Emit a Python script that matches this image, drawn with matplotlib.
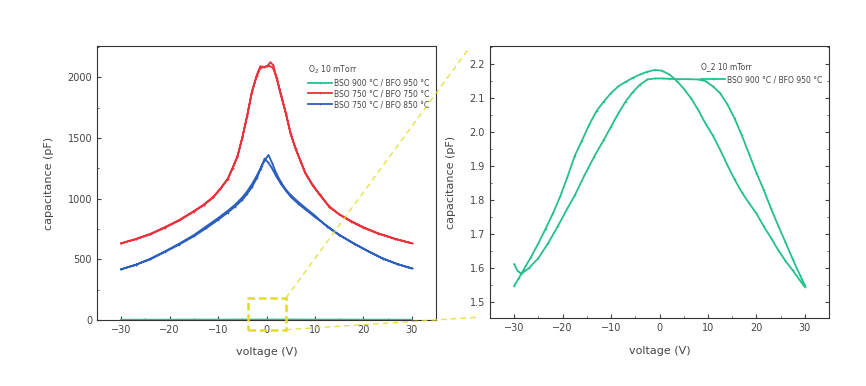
import numpy as np
import matplotlib
matplotlib.use("Agg")
import matplotlib.pyplot as plt
from matplotlib.patches import Rectangle
from matplotlib.lines import Line2D
from matplotlib.ticker import MultipleLocator

RED = "#e8333c"
BLUE = "#2c5fbd"
GREEN = "#25c08a"
YELLOW = "#e2dc2a"
INK = "#444444"

# --- left panel: capacitance vs voltage (pF) ---
red_up_v = [-30, -27, -24, -21, -18, -15, -13, -11, -9.5, -8, -7, -6, -5, -4, -3,
            -2, -1.3, -0.5, 0.2, 0.8, 1.4, 2.1, 3, 4, 5, 6, 7, 8, 9.5, 11, 13,
            15, 17.5, 20, 23, 26.5, 30]
red_up_c = [632, 665, 705, 760, 820, 893, 945, 1010, 1080, 1160, 1250, 1345, 1500,
            1680, 1880, 2010, 2075, 2085, 2095, 2124, 2100, 1992, 1850, 1700, 1530,
            1410, 1310, 1210, 1110, 1030, 930, 870, 810, 760, 712, 668, 632]
red_dn_v = [30, 26.5, 23, 20, 17.5, 15, 13, 11, 9.5, 8, 7, 6, 5, 4, 3, 2.1, 1.3,
            0.5, -0.3, -1.3, -2, -3, -4, -5, -6, -7, -8, -9.5, -11, -13, -15, -18,
            -21, -24, -27, -30]
red_dn_c = [632, 670, 716, 765, 815, 872, 935, 1035, 1115, 1215, 1315, 1415, 1535,
            1705, 1855, 1995, 2080, 2095, 2085, 2090, 2020, 1885, 1685, 1505, 1350,
            1255, 1165, 1085, 1015, 950, 898, 825, 765, 710, 668, 632]

blue_up_v = [-30, -27, -24, -21, -18, -15, -12.5, -10, -8, -6.5, -5, -4, -3, -2, -1,
             -0.3, 0.4, 1.2, 2, 3, 4, 5, 6.5, 8, 10, 12.5, 15, 18, 21, 24, 27, 30]
blue_up_c = [418, 455, 505, 565, 630, 700, 770, 840, 900, 950, 1010, 1060, 1120,
             1190, 1270, 1320, 1360, 1290, 1210, 1135, 1075, 1030, 975, 925, 860,
             770, 700, 630, 565, 505, 460, 425]
blue_dn_v = [30, 27, 24, 21, 18, 15, 12.5, 10, 8, 6.5, 5, 4, 3, 2, 1, 0.3, -0.4,
             -1.2, -2, -3, -4, -5, -6.5, -8, -10, -12.5, -15, -18, -21, -24, -27, -30]
blue_dn_c = [425, 462, 508, 568, 632, 703, 775, 848, 912, 960, 1015, 1065, 1120,
             1185, 1260, 1300, 1330, 1245, 1170, 1095, 1040, 990, 935, 885, 825,
             755, 690, 622, 560, 500, 455, 418]

# --- green sample (also shown enlarged on the right) ---
green_up_v = [-30, -29.3, -28.5, -27, -25, -23, -21, -19, -17.5, -15.5, -13.5, -11.5,
              -10, -8.5, -7, -5.5, -4, -2.5, -1, 0.5, 2, 4, 6, 8, 9.5, 11, 12.5, 14,
              15.5, 17, 18.5, 20, 21.5, 23, 24.5, 26, 27.5, 29, 30]
green_up_c = [1.61, 1.59, 1.582, 1.598, 1.628, 1.672, 1.722, 1.775, 1.813, 1.872,
              1.927, 1.977, 2.016, 2.055, 2.09, 2.118, 2.14, 2.155, 2.158, 2.158,
              2.157, 2.156, 2.156, 2.155, 2.15, 2.135, 2.115, 2.082, 2.04, 1.99,
              1.935, 1.88, 1.83, 1.775, 1.724, 1.675, 1.625, 1.578, 1.548]
green_dn_v = [30, 29, 27.5, 26, 24.5, 23, 21.5, 20, 18.5, 17, 15.5, 14, 12.5, 11,
              9.5, 8, 6.5, 5, 3.5, 2, 0.5, -1, -2.5, -4, -5.5, -7, -8.5, -10, -11.5,
              -13, -14.5, -16, -17.5, -19, -20.5, -22, -23.5, -25, -26.5, -28, -29,
              -30]
green_dn_c = [1.543, 1.562, 1.592, 1.62, 1.652, 1.688, 1.722, 1.76, 1.79, 1.822,
              1.86, 1.903, 1.948, 1.99, 2.025, 2.065, 2.1, 2.128, 2.152, 2.17, 2.181,
              2.183, 2.178, 2.17, 2.16, 2.148, 2.135, 2.115, 2.09, 2.062, 2.022,
              1.975, 1.93, 1.868, 1.81, 1.76, 1.715, 1.672, 1.632, 1.595, 1.57,
              1.546]

left_labels = ["BSO 900 \u00b0C / BFO 950 \u00b0C",
               "BSO 750 \u00b0C / BFO 750 \u00b0C",
               "BSO 750 \u00b0C / BFO 850 \u00b0C"]
legend_title = "O$_2$ 10 mTorr"
right_title = "O_2 10 mTorr"

plt.rcParams.update({"font.family": "DejaVu Sans", "font.size": 7,
                     "text.color": INK, "xtick.color": INK, "ytick.color": INK,
                     "axes.labelcolor": INK})

fig = plt.figure(figsize=(8.66, 3.86), dpi=100)
ax1 = fig.add_axes([0.112, 0.171, 0.3915, 0.7098])
ax2 = fig.add_axes([0.5658, 0.175, 0.3915, 0.706])

line_kw = dict(lw=1.3, marker="+", ms=1.8, mew=0.5)


def style(ax, right_ticks):
    for s in ax.spines.values():
        s.set_linestyle((0, (1.5, 1)))
        s.set_linewidth(0.8)
        s.set_color("#333333")
    ax.tick_params(which="both", direction="in", labelsize=7, right=right_ticks)
    ax.tick_params(which="major", length=3)
    ax.tick_params(which="minor", length=1.5)
    ax.set_xlabel("voltage (V)", fontsize=8, labelpad=9)
    ax.set_ylabel("capacitance (pF)", fontsize=8, labelpad=10)


ax1.plot(green_up_v + green_dn_v, green_up_c + green_dn_c, color=GREEN,
         label=left_labels[0], **line_kw)
ax1.plot(red_up_v + red_dn_v, red_up_c + red_dn_c, color=RED,
         label=left_labels[1], **line_kw)
ax1.plot(blue_up_v + blue_dn_v, blue_up_c + blue_dn_c, color=BLUE,
         label=left_labels[2], **line_kw)
ax1.set_xlim(-35, 35)
ax1.set_ylim(0, 2258)
ax1.xaxis.set_major_locator(MultipleLocator(10))
ax1.xaxis.set_minor_locator(MultipleLocator(5))
ax1.yaxis.set_major_locator(MultipleLocator(500))
ax1.yaxis.set_minor_locator(MultipleLocator(250))
style(ax1, False)
leg1 = ax1.legend(title=legend_title, loc="upper right", frameon=False,
                  fontsize=5.5, title_fontsize=5.5, handlelength=3.2,
                  handletextpad=0.2, labelspacing=0.25,
                  bbox_to_anchor=(1.0, 0.96))
leg1._legend_box.align = "left"

ax2.plot(green_up_v + green_dn_v, green_up_c + green_dn_c, color=GREEN,
         label=left_labels[0], **line_kw)
ax2.set_xlim(-35, 35)
ax2.set_ylim(1.45, 2.254)
ax2.xaxis.set_major_locator(MultipleLocator(10))
ax2.xaxis.set_minor_locator(MultipleLocator(5))
ax2.yaxis.set_major_locator(MultipleLocator(0.1))
ax2.yaxis.set_minor_locator(MultipleLocator(0.05))
style(ax2, True)
leg2 = ax2.legend(title=right_title, loc="upper right", frameon=False,
                  fontsize=5.5, title_fontsize=5.5, handlelength=3.2,
                  handletextpad=0.2, bbox_to_anchor=(1.0, 0.965))
leg2._legend_box.align = "left"

# zoom box and connectors (drawn in figure coordinates)
box_x0, box_x1, box_y0, box_y1 = -3.8, 4.0, -80, 181
ax1.add_patch(Rectangle((box_x0, box_y0), box_x1 - box_x0, box_y1 - box_y0,
                        fill=False, ec=YELLOW, lw=1.8, ls=(0, (3, 1.5)),
                        clip_on=False, zorder=5))
to_fig = fig.transFigure.inverted()
for ya, xb, yb in [(box_y1, -0.059, 0.996), (box_y0, -0.03, 0.005)]:
    pa = to_fig.transform(ax1.transData.transform((box_x1, ya)))
    pb = to_fig.transform(ax2.transAxes.transform((xb, yb)))
    fig.add_artist(Line2D([pa[0], pb[0]], [pa[1], pb[1]], transform=fig.transFigure,
                          color=YELLOW, lw=1.0, ls=(0, (4, 3)), alpha=0.85,
                          zorder=10))

fig.savefig("out.png", dpi=100)
